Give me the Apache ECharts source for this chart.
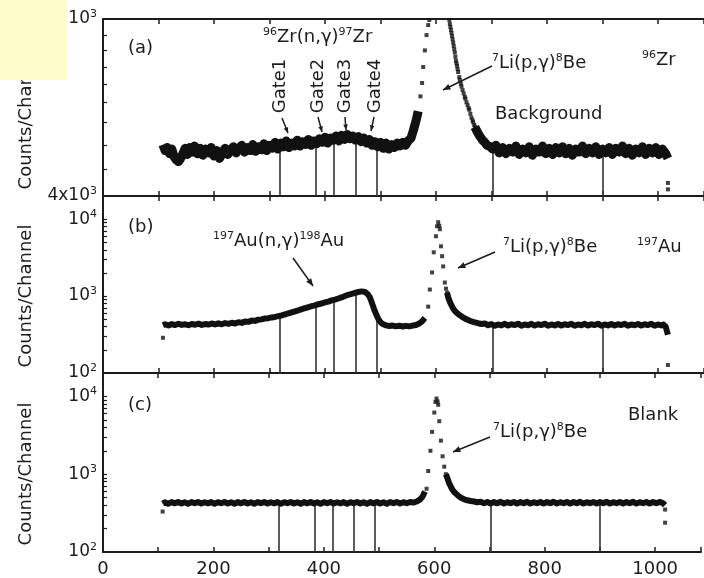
<!DOCTYPE html>
<html>
<head>
<meta charset="utf-8">
<script src="https://cdn.jsdelivr.net/npm/echarts@6/dist/echarts.min.js"></script>
<style>
html, body { margin: 0; padding: 0; background: #fff; }
#chart { width: 704px; height: 578px; }
</style>
</head>
<body>
<div id="chart"></div>
<script>
// gate channels (same in all panels)
const gateChannels = [318, 384, 416, 455, 493, 702, 900];

// (a) 96Zr spectrum, [channel, counts]
const zrLeft = [[108,522],[112,506],[116,514],[120,498],[124,510],[128,490],[132,482],[136,478],[140,486],[144,498],[148,512],[152,496],[156,514],[160,502],[165,518],[170,498],[175,512],[180,494],[185,510],[190,500],[195,514],[200,492],[205,506],[210,486],[215,500],[220,512],[225,496],[230,508],[235,516],[240,500],[245,512],[250,520],[255,502],[260,514],[265,506],[270,522],[275,504],[280,516],[285,508],[290,524],[295,506],[300,520],[305,512],[310,528],[315,510],[320,526],[325,516],[330,532],[335,514],[340,526],[345,518],[350,534],[355,518],[360,530],[365,522],[370,536],[375,520],[380,532],[385,524],[390,538],[395,528],[400,542],[405,526],[410,540],[415,534],[420,546],[425,532],[430,548],[435,536],[440,550],[445,538],[450,546],[455,534],[460,544],[465,530],[470,540],[475,526],[480,536],[485,520],[490,530],[495,516],[500,528],[505,512],[510,526],[515,510],[520,522],[525,514],[530,526],[535,518],[540,528],[545,520],[550,532],[555,540],[559,560],[564,590],[568,620]];
const zrPeak = [[572,670],[575,718],[577,780],[580,850],[583,920],[586,969],[588,995],[624,995],[625,975],[626,960],[627,945],[628,930],[629,915],[630,900],[631,885],[632,870],[633,855],[634,840],[635,822],[636,805],[637,795],[638,785],[639,772],[640,760],[642,740],[643,729],[645,715],[646,705],[648,692],[650,680],[652,668],[653,662],[655,650],[657,640],[659,630],[660,625],[662,612],[664,600],[666,592],[667,586],[669,578],[670,572]];
const zrRight = [[670,572],[675,556],[679,545],[684,534],[688,528],[692,520],[697,517],[702,510],[708,520],[714,500],[720,514],[726,498],[732,512],[738,502],[744,518],[750,496],[756,510],[762,500],[768,516],[774,494],[780,510],[786,502],[792,518],[798,498],[804,512],[810,496],[816,514],[822,500],[828,516],[834,498],[840,512],[846,494],[852,510],[858,502],[864,518],[870,498],[876,512],[882,500],[888,516],[894,496],[900,510],[906,500],[912,514],[918,496],[924,512],[930,502],[936,518],[942,498],[948,512],[954,494],[960,510],[966,500],[972,516],[978,496],[984,512],[990,500],[996,514],[1002,496],[1008,510],[1014,498],[1018,486]];
const zrEnd = [[1018,428],[1018,414]];
const zrGateTop = [516, 530, 534, 538, 526, 512, 510];

// (b) 197Au spectrum
const auLeft = [[108,418],[112,430],[118,415],[124,432],[130,420],[136,436],[142,422],[148,430],[154,418],[160,434],[166,424],[172,438],[178,421],[184,433],[190,426],[196,440],[202,428],[208,442],[214,430],[220,446],[226,436],[232,450],[238,440],[244,458],[250,448],[256,466],[262,462],[268,480],[274,476],[280,494],[286,498],[292,512],[298,516],[304,528],[310,536],[316,548],[322,560],[328,578],[334,596],[340,614],[346,634],[352,654],[358,676],[364,698],[370,716],[376,740],[382,758],[388,784],[394,800],[400,828],[406,846],[412,878],[418,900],[424,930],[430,960],[436,1000],[442,1040],[448,1070],[454,1100],[460,1130],[466,1150],[472,1130],[477,1060],[481,960],[485,800],[489,660],[493,560],[497,490],[501,450],[505,430],[510,416],[516,408],[522,414],[528,404],[534,412],[540,402],[546,410],[552,404],[558,414],[564,420],[570,440],[575,470],[580,520]];
const auPeak = [[586,729],[589,1216],[593,2028],[596,3706],[600,5995],[602,8093],[604,9140],[606,8200],[607,7400],[609,4437],[611,3300],[613,2430],[616,1500],[618,1250],[620,1111]];
const auRight = [[620,1111],[622,960],[626,810],[630,710],[634,640],[640,585],[646,545],[652,512],[658,488],[664,468],[670,456],[676,444],[682,434],[688,440],[694,418],[700,432],[706,412],[712,428],[718,416],[724,436],[730,414],[736,430],[742,420],[748,438],[754,412],[760,428],[766,418],[772,436],[778,414],[784,430],[790,420],[796,438],[802,412],[808,428],[814,416],[820,434],[826,414],[832,430],[838,420],[844,436],[850,412],[856,428],[862,418],[868,436],[874,414],[880,430],[886,420],[892,438],[898,412],[904,428],[910,416],[916,434],[922,414],[928,430],[934,420],[940,436],[946,412],[952,428],[958,418],[964,434],[970,414],[976,430],[982,420],[988,436],[994,412],[1000,428],[1006,416],[1010,426],[1014,400],[1018,314]];
const auEnd = [[108,287],[1018,127]];
const auGateTop = [545, 780, 900, 1090, 540, 424, 424];

// (c) blank spectrum
const blLeft = [[108,420],[112,436],[118,418],[124,438],[130,422],[136,440],[142,420],[148,436],[154,418],[160,438],[166,424],[172,440],[178,420],[184,436],[190,422],[196,438],[202,418],[208,436],[214,424],[220,440],[226,420],[232,436],[238,418],[244,438],[250,422],[256,440],[262,420],[268,436],[274,418],[280,438],[286,424],[292,440],[298,420],[304,436],[310,422],[316,438],[322,418],[328,436],[334,424],[340,440],[346,420],[352,436],[358,418],[364,438],[370,422],[376,440],[382,420],[388,436],[394,418],[400,438],[406,424],[412,440],[418,420],[424,436],[430,422],[436,438],[442,418],[448,436],[454,424],[460,440],[466,420],[472,436],[478,418],[484,438],[490,422],[496,440],[502,420],[508,436],[514,418],[520,438],[526,424],[532,440],[538,420],[544,436],[550,424],[556,440],[562,432],[568,446],[574,470],[579,520],[583,600]];
const blPeak = [[586,650],[589,1100],[593,2000],[596,3500],[600,6200],[602,8500],[604,9400],[606,8600],[607,7800],[609,4800],[612,2700],[615,1700],[618,1250],[621,1000]];
const blRight = [[621,1000],[624,880],[627,760],[630,690],[633,630],[637,580],[642,540],[648,500],[654,476],[660,462],[666,452],[672,446],[678,436],[684,442],[690,424],[696,440],[702,420],[708,438],[714,422],[720,442],[726,420],[732,436],[738,424],[744,440],[750,420],[756,438],[762,424],[768,442],[774,420],[780,436],[786,424],[792,440],[798,420],[804,438],[810,424],[816,442],[822,420],[828,436],[834,424],[840,440],[846,420],[852,438],[858,424],[864,442],[870,420],[876,436],[882,424],[888,440],[894,420],[900,438],[906,424],[912,442],[918,420],[924,436],[930,424],[936,440],[942,420],[948,438],[954,424],[960,442],[966,420],[972,436],[978,424],[984,440],[990,420],[996,438],[1002,424],[1008,440],[1014,426],[1018,400]];
const blEnd = [[108,331],[1018,351],[1018,238]];
const blGateTop = [430, 430, 430, 430, 430, 430, 430];

// axis ticks
const xMax = 1083;          // the figure is cut at the right edge
const xLabelStep = 200;
const zrTicks = [460, 520, 585, 650, 715, 780, 850, 920];
const logTicks = [200,300,400,500,600,700,800,900,1000,2000,3000,4000,5000,6000,7000,8000,9000,10000];

const font = 'DejaVu Sans';
const ink = '#1c1c1c';
const sup = { fontSize: 11, fontFamily: font, padding: [0, 0, 10, 0], color: ink, fill: ink };

let myChart = echarts.init(document.getElementById('chart'));

const grids = [
    { left: 103, right: 0, top: 19, height: 177 },
    { left: 103, right: 0, top: 196, height: 177 },
    { left: 103, right: 0, top: 373, height: 179 }
];

function xAxisFor(i, pos) {
    return {
        gridIndex: i, type: 'value', position: pos, min: 0, max: xMax, interval: 100,
        axisLine: { onZero: false, lineStyle: { color: ink, width: 2 } },
        axisTick: { inside: true, length: 5, lineStyle: { color: ink, width: 1.5 } },
        axisLabel: {
            show: pos === 'bottom' && i === 2, margin: 8,
            fontSize: 18, fontFamily: font, color: ink,
            formatter: v => (v % xLabelStep === 0 ? String(v) : '')
        },
        splitLine: { show: false }
    };
}

function powLabel(v) {
    if (Math.abs(v - 400) < 1) return '{n|4x10}{s|3}';
    const e = Math.round(Math.log10(v));
    if (Math.abs(Math.pow(10, e) - v) > 1) return '';
    return '{n|10}{s|' + e + '}';
}

function yAxisFor(i, min, max, ticks, labels) {
    return {
        gridIndex: i, type: 'log', logBase: 10, min: min, max: max,
        axisLine: { lineStyle: { color: ink, width: 2 } },
        axisTick: { inside: true, length: 4, customValues: ticks, lineStyle: { color: ink, width: 1.2 } },
        minorTick: { show: false },
        axisLabel: {
            customValues: labels, margin: 6, formatter: powLabel,
            rich: { n: { fontSize: 17, fontFamily: font, color: ink }, s: sup }
        },
        splitLine: { show: false }
    };
}

const panels = [
    { left: zrLeft, peak: zrPeak, right: zrRight, end: zrEnd, gate: zrGateTop, yMin: 400, width: 9 },
    { left: auLeft, peak: auPeak, right: auRight, end: auEnd, gate: auGateTop, yMin: 100, width: 6 },
    { left: blLeft, peak: blPeak, right: blRight, end: blEnd, gate: blGateTop, yMin: 100, width: 6 }
];

let series = [];
panels.forEach(function (p, i) {
    const axes = { xAxisIndex: 2 * i, yAxisIndex: i };
    // gate lines
    series.push(Object.assign({
        type: 'line', data: [], z: 1,
        markLine: {
            silent: true, symbol: 'none', z: 1, animation: false,
            label: { show: false },
            lineStyle: { color: '#333', width: 1.6, type: 'solid' },
            data: gateChannels.map((g, k) => [{ coord: [g, p.yMin] }, { coord: [g, p.gate[k]] }])
        }
    }, axes));
    [p.left, p.right].forEach(function (d) {
        series.push(Object.assign({
            type: 'line', data: d, showSymbol: false, z: 3, animation: false,
            lineStyle: { color: '#111', width: p.width, join: 'round' }
        }, axes));
    });
    series.push(Object.assign({
        type: 'scatter', data: p.peak.concat(p.end), symbol: 'rect', symbolSize: 4, z: 4,
        itemStyle: { color: '#111' }, animation: false
    }, axes));
});

function txt(text, x, y, extra) {
    return Object.assign({
        type: 'text', x: x, y: y, z: 10,
        style: {
            text: text, fontSize: 18, fontFamily: font, fill: ink,
            align: 'left', verticalAlign: 'middle', rich: { s: sup }
        }
    }, extra || {});
}

function gateTxt(text, x) {
    return {
        type: 'text', x: x, y: 86, z: 10, rotation: Math.PI / 2,
        style: { text: text, fontSize: 18, fontFamily: font, fill: ink, align: 'center', verticalAlign: 'middle' }
    };
}

function arrow(x1, y1, x2, y2, h) {
    const a = Math.atan2(y2 - y1, x2 - x1);
    const p1 = [x2 - h * Math.cos(a - 0.4), y2 - h * Math.sin(a - 0.4)];
    const p2 = [x2 - h * Math.cos(a + 0.4), y2 - h * Math.sin(a + 0.4)];
    return [
        { type: 'line', z: 10, shape: { x1: x1, y1: y1, x2: x2, y2: y2 }, style: { stroke: ink, lineWidth: 1.5 } },
        { type: 'polygon', z: 10, shape: { points: [[x2, y2], p1, p2] }, style: { fill: ink } }
    ];
}

function vname(y) {
    return {
        type: 'text', x: 26, y: y, rotation: Math.PI / 2, z: 10,
        style: { text: 'Counts/Channel', fontSize: 18, fontFamily: font, fill: ink, align: 'center', verticalAlign: 'middle' }
    };
}

let graphics = [
    vname(118), vname(296), vname(474),
    // (a)
    txt('(a)', 128, 48),
    txt('{s|96}Zr(n,γ){s|97}Zr', 263, 37),
    gateTxt('Gate1', 280), gateTxt('Gate2', 318), gateTxt('Gate3', 345), gateTxt('Gate4', 375),
    txt('{s|7}Li(p,γ){s|8}Be', 492, 63),
    txt('{s|96}Zr', 642, 60),
    txt('Background', 495, 114),
    // (b)
    txt('(b)', 128, 227),
    txt('{s|197}Au(n,γ){s|198}Au', 213, 241),
    txt('{s|7}Li(p,γ){s|8}Be', 503, 247),
    txt('{s|197}Au', 637, 247),
    // (c)
    txt('(c)', 128, 405),
    txt('{s|7}Li(p,γ){s|8}Be', 493, 432),
    txt('Blank', 628, 415)
];
graphics = graphics.concat(
    arrow(282, 118, 288, 133, 6), arrow(318, 117, 322, 132, 6),
    arrow(345, 117, 346, 130, 6), arrow(374, 117, 371, 131, 6),
    arrow(492, 66, 443, 90, 8),
    arrow(293, 258, 313, 286, 8),
    arrow(495, 252, 458, 268, 8),
    arrow(490, 437, 453, 452, 8)
);
// yellow patch in the top left corner
graphics.push({ type: 'rect', z: 100, shape: { x: 0, y: 0, width: 67, height: 80 }, style: { fill: '#fffccc' } });

option = {
    backgroundColor: '#fff',
    animation: false,
    grid: grids,
    xAxis: [xAxisFor(0, 'bottom'), xAxisFor(0, 'top'), xAxisFor(1, 'bottom'), xAxisFor(1, 'top'), xAxisFor(2, 'bottom'), xAxisFor(2, 'top')],
    yAxis: [
        yAxisFor(0, 400, 1000, zrTicks, [400, 1000]),
        yAxisFor(1, 100, 20000, logTicks, [100, 1000, 10000]),
        yAxisFor(2, 100, 20000, logTicks, [100, 1000, 10000])
    ],
    series: series,
    graphic: graphics
};
myChart.setOption(option);
</script>
</body>
</html>
